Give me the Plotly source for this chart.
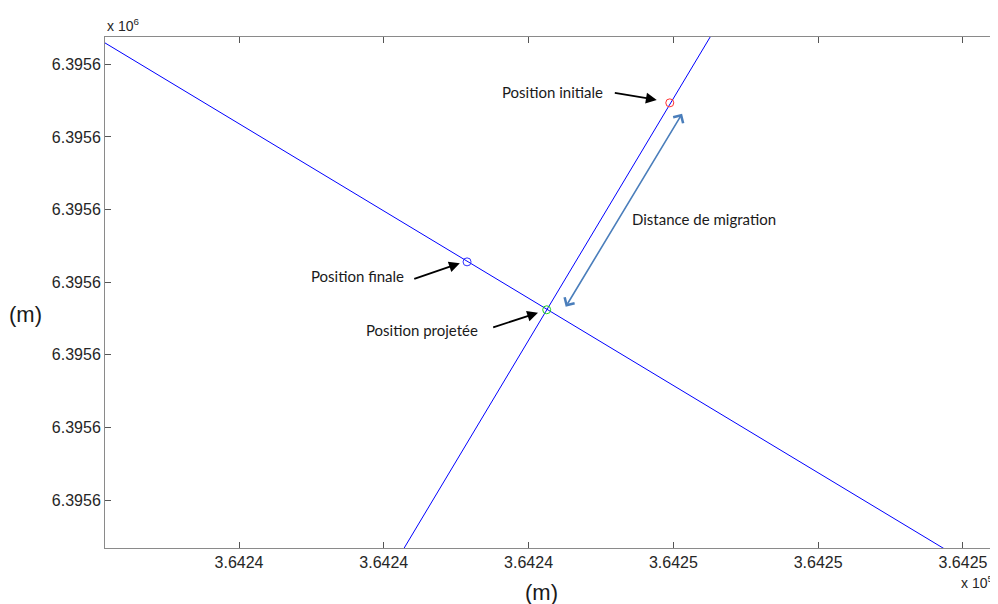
import plotly.graph_objects as go

# ---- data (metres) ----
line1_x = [364238.0, 364250.0]
line1_y = [6395606.385, 6395599.173]
line2_x = [364242.18, 364246.60]
line2_y = [6395599.17, 6395606.53]

initial_x = [364245.95]
initial_y = [6395605.47]
final_x = [364243.15]
final_y = [6395603.28]
proj_x = [364244.25]
proj_y = [6395602.62]

x_tickvals = [364240, 364242, 364244, 364246, 364248, 364250]
x_ticktext = ["3.6424", "3.6424", "3.6424", "3.6425", "3.6425", "3.6425"]
y_tickvals = [6395600, 6395601, 6395602, 6395603, 6395604, 6395605, 6395606]
y_ticktext = ["6.3956", "6.3956", "6.3956", "6.3956", "6.3956", "6.3956", "6.3956"]

x_range = [364238.149, 364250.47]
y_range = [6395599.339, 6395606.377]

labels = ["Position initiale", "Position finale", "Position projetée", "Distance de migration"]
label_x = [364244.33, 364241.64, 364242.53, 364246.42]
label_y = [6395605.62, 6395603.09, 6395602.34, 6395603.87]

# arrows: tail -> head
arrow_tail_x = [364245.17, 364242.40, 364243.49]
arrow_tail_y = [6395605.61, 6395603.04, 6395602.37]
arrow_head_x = [364245.77, 364243.05, 364244.13]
arrow_head_y = [6395605.51, 6395603.26, 6395602.58]

dist_start = (364244.50, 6395602.64)
dist_end = (364246.12, 6395605.32)

BLUE = "#0000ff"
fig = go.Figure()
fig.add_trace(go.Scatter(x=line1_x, y=line1_y, mode="lines",
                         line=dict(color=BLUE, width=1), hoverinfo="skip"))
fig.add_trace(go.Scatter(x=line2_x, y=line2_y, mode="lines",
                         line=dict(color=BLUE, width=1), hoverinfo="skip"))
fig.add_trace(go.Scatter(x=initial_x, y=initial_y, mode="markers",
                         marker=dict(symbol="circle-open", size=8, color="#ff3030", line=dict(width=1))))
fig.add_trace(go.Scatter(x=final_x, y=final_y, mode="markers",
                         marker=dict(symbol="circle-open", size=8, color="#3030ff", line=dict(width=1))))
fig.add_trace(go.Scatter(x=proj_x, y=proj_y, mode="markers",
                         marker=dict(symbol="circle-open", size=8, color="#20d020", line=dict(width=1))))

ann = []
for t, x, y in zip(labels, label_x, label_y):
    ann.append(dict(x=x, y=y, xref="x", yref="y", text=t, showarrow=False,
                    font=dict(family="Lato", size=15, color="#1a1a1a")))
for tx, ty, hx, hy in zip(arrow_tail_x, arrow_tail_y, arrow_head_x, arrow_head_y):
    ann.append(dict(x=hx, y=hy, ax=tx, ay=ty, xref="x", yref="y", axref="x", ayref="y",
                    text="", showarrow=True, arrowhead=2, arrowsize=1.2,
                    arrowwidth=1.8, arrowcolor="#000000"))
ann.append(dict(x=dist_end[0], y=dist_end[1], ax=dist_start[0], ay=dist_start[1],
                xref="x", yref="y", axref="x", ayref="y", text="", showarrow=True,
                arrowhead=4, startarrowhead=4, arrowside="end+start", arrowsize=1.4,
                startarrowsize=1.4, arrowwidth=1.6, arrowcolor="#4a7ebb"))
# exponent labels and axis titles
ann.append(dict(x=0, y=1, xref="paper", yref="paper", xanchor="left", yanchor="bottom",
                yshift=1, text="x 10<sup>6</sup>", showarrow=False,
                font=dict(family="Liberation Sans", size=14, color="#262626")))
ann.append(dict(x=0.957, y=0, xref="paper", yref="paper", xanchor="left", yanchor="middle",
                yshift=-34, text="x 10<sup>5</sup>", showarrow=False,
                font=dict(family="Liberation Sans", size=14, color="#262626")))
ann.append(dict(x=0.489, y=-0.088, xref="paper", yref="paper", xanchor="center",
                yanchor="middle", text="(m)", showarrow=False,
                font=dict(family="Liberation Sans", size=22, color="#1a1a1a")))
ann.append(dict(x=-0.0886, y=0.456, xref="paper", yref="paper", xanchor="center",
                yanchor="middle", text="(m)", showarrow=False,
                font=dict(family="Liberation Sans", size=22, color="#1a1a1a")))

axis_common = dict(showline=True, linecolor="#8a8a8a", linewidth=1, mirror="ticks",
                   ticks="inside", ticklen=6, tickcolor="#555555", showgrid=False,
                   zeroline=False, tickfont=dict(family="Liberation Sans", size=16, color="#262626"))
fig.update_xaxes(range=x_range, tickmode="array", tickvals=x_tickvals, ticktext=x_ticktext,
                 ticklabelstandoff=0, **axis_common)
fig.update_yaxes(range=y_range, tickmode="array", tickvals=y_tickvals, ticktext=y_ticktext,
                 ticklabelstandoff=0, **axis_common)
# page body has an 8px margin: shrink the figure so the plot box lands where the reference has it
fig.update_layout(width=990, height=596, margin=dict(l=97, r=1, t=29, b=56),
                  plot_bgcolor="white", paper_bgcolor="white", showlegend=False,
                  annotations=ann)
fig.write_html("out.html")
